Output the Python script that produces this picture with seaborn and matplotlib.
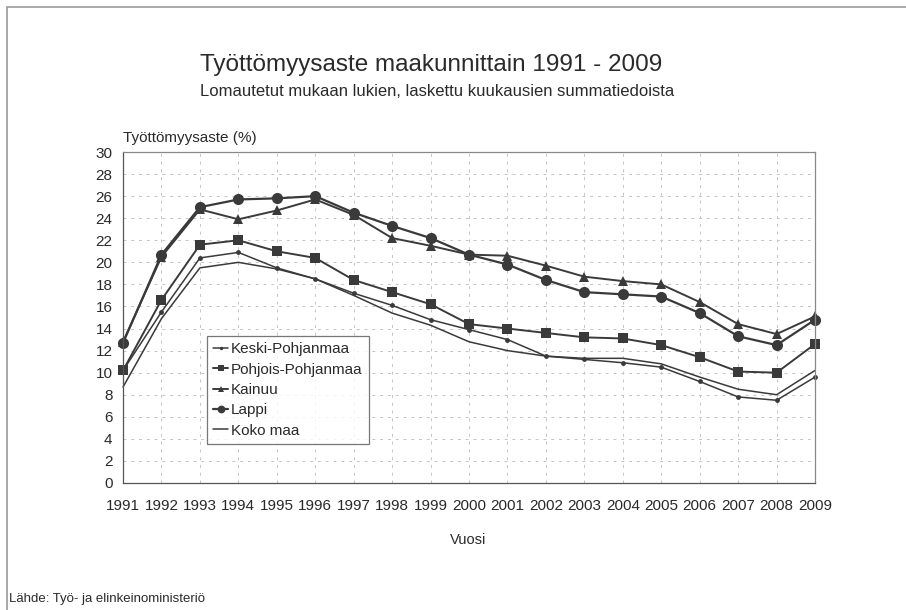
"""Työttömyysaste maakunnittain 1991-2009, line chart recreated with seaborn."""
import matplotlib

matplotlib.use("Agg")
import matplotlib.pyplot as plt  # noqa: E402
import pandas as pd  # noqa: E402
import seaborn as sns  # noqa: E402
from matplotlib.patches import Rectangle  # noqa: E402

years = list(range(1991, 2010))

keski_pohjanmaa = [10.2, 15.5, 20.4, 20.9, 19.5, 18.5, 17.2, 16.1, 14.8, 13.9,
                   13.0, 11.5, 11.2, 10.9, 10.5, 9.2, 7.8, 7.5, 9.6]
pohjois_pohjanmaa = [10.2, 16.6, 21.6, 22.0, 21.0, 20.4, 18.4, 17.3, 16.2, 14.4,
                     14.0, 13.6, 13.2, 13.1, 12.5, 11.4, 10.1, 10.0, 12.6]
kainuu = [12.8, 20.5, 24.8, 23.9, 24.7, 25.7, 24.3, 22.2, 21.5, 20.7,
          20.6, 19.7, 18.7, 18.3, 18.0, 16.4, 14.4, 13.5, 15.1]
lappi = [12.7, 20.7, 25.0, 25.7, 25.8, 26.0, 24.5, 23.3, 22.2, 20.7,
         19.8, 18.4, 17.3, 17.1, 16.9, 15.4, 13.3, 12.5, 14.8]
koko_maa = [8.7, 14.9, 19.5, 20.0, 19.4, 18.5, 17.0, 15.4, 14.3, 12.8,
            12.0, 11.5, 11.3, 11.3, 10.8, 9.6, 8.5, 8.0, 10.2]

series = {
    "Keski-Pohjanmaa": keski_pohjanmaa,
    "Pohjois-Pohjanmaa": pohjois_pohjanmaa,
    "Kainuu": kainuu,
    "Lappi": lappi,
    "Koko maa": koko_maa,
}
styles = {
    "Keski-Pohjanmaa": dict(marker="o", markersize=3.5, linewidth=1.1),
    "Pohjois-Pohjanmaa": dict(marker="s", markersize=6.5, linewidth=1.4),
    "Kainuu": dict(marker="^", markersize=7, linewidth=1.4),
    "Lappi": dict(marker="o", markersize=8, linewidth=1.6),
    "Koko maa": dict(marker=None, markersize=0, linewidth=1.1),
}

sns.set_theme(style="white")
plt.rcParams["font.family"] = ["Liberation Sans", "DejaVu Sans"]

line_color = "#3a3a3a"
text_color = "#2a2a2a"

fig = plt.figure(figsize=(9.06, 6.10), dpi=100)
ax = fig.add_axes([0.1358, 0.2082, 0.7638, 0.5426])

for name, values in series.items():
    df = pd.DataFrame({"Vuosi": years, "Arvo": values})
    st = styles[name]
    sns.lineplot(data=df, x="Vuosi", y="Arvo", ax=ax, color=line_color,
                 marker=st["marker"], markersize=st["markersize"],
                 linewidth=st["linewidth"], markeredgewidth=0,
                 markerfacecolor=line_color, label=name)
for line in ax.lines:
    line.set_clip_on(False)

ax.set_xlim(1991, 2009)
ax.set_ylim(0, 30)
ax.set_xticks(years)
ax.set_yticks(range(0, 31, 2))
ax.tick_params(axis="both", labelsize=11, colors=text_color, length=7,
               width=0.8, direction="inout", pad=4)
ax.tick_params(axis="x", pad=8)
ax.grid(True, color="#c4c4c4", linestyle=(0, (3, 5)), linewidth=0.7)
for side in ["left", "bottom"]:
    ax.spines[side].set_color("#555555")
    ax.spines[side].set_linewidth(0.9)
for side in ["top", "right"]:
    ax.spines[side].set_color("#888888")
    ax.spines[side].set_linewidth(0.9)

ax.set_xlabel("")
ax.set_ylabel("")
fig.text(123 / 906, 1 - 138 / 610, "Työttömyysaste (%)", fontsize=11,
         color=text_color, ha="left", va="center")
fig.text(468 / 906, 1 - 540 / 610, "Vuosi", fontsize=10.5,
         color=text_color, ha="center", va="center")

fig.text(200 / 906, 1 - 65 / 610, "Työttömyysaste maakunnittain 1991 - 2009",
         fontsize=17.5, color=text_color, ha="left", va="center")
fig.text(200 / 906, 1 - 92 / 610,
         "Lomautetut mukaan lukien, laskettu kuukausien summatiedoista",
         fontsize=12, color=text_color, ha="left", va="center")
fig.text(9 / 906, 1 - 599 / 610, "Lähde: Työ- ja elinkeinoministeriö",
         fontsize=9.5, color=text_color, ha="left", va="center")

leg = ax.legend(loc="upper left", bbox_to_anchor=(0.121, 0.444), fontsize=11,
                frameon=True, fancybox=False, edgecolor="#555555",
                handlelength=1.0, handletextpad=0.2, borderpad=0.4,
                labelspacing=0.42, borderaxespad=0, markerscale=0.7)
leg.get_frame().set_linewidth(0.9)
for text in leg.get_texts():
    text.set_color(text_color)

fig.patches.append(Rectangle((7 / 906, -0.01), 1.0, 1 - 7 / 610 + 0.01,
                             transform=fig.transFigure, fill=False,
                             edgecolor="#9a9a9a", linewidth=1.2))

fig.savefig("out.png", dpi=100)
